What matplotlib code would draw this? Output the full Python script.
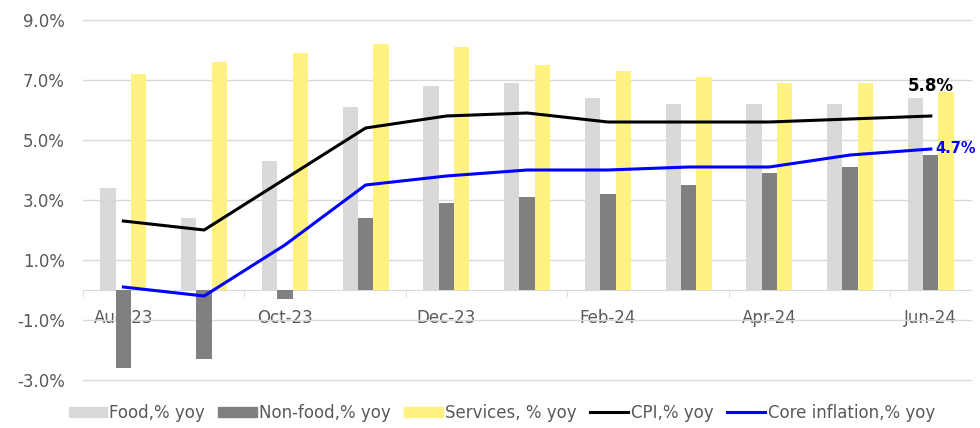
import numpy as np
import matplotlib
matplotlib.use("Agg")
import matplotlib.pyplot as plt
import matplotlib.ticker as mtick
from matplotlib.patches import Patch
from matplotlib.lines import Line2D

months = ["Aug-23", "Sep-23", "Oct-23", "Nov-23", "Dec-23", "Jan-24",
          "Feb-24", "Mar-24", "Apr-24", "May-24", "Jun-24"]
food = [3.4, 2.4, 4.3, 6.1, 6.8, 6.9, 6.4, 6.2, 6.2, 6.2, 6.4]
non_food = [-2.6, -2.3, -0.3, 2.4, 2.9, 3.1, 3.2, 3.5, 3.9, 4.1, 4.5]
services = [7.2, 7.6, 7.9, 8.2, 8.1, 7.5, 7.3, 7.1, 6.9, 6.9, 6.6]
cpi = [2.3, 2.0, 3.7, 5.4, 5.8, 5.9, 5.6, 5.6, 5.6, 5.7, 5.8]
core = [0.1, -0.2, 1.5, 3.5, 3.8, 4.0, 4.0, 4.1, 4.1, 4.5, 4.7]
y_ticks = [-3, -1, 1, 3, 5, 7, 9]

C_FOOD = "#d9d9d9"
C_NONFOOD = "#808080"
C_SERV = "#fff280"
C_GRID = "#d9d9d9"
C_TEXT = "#595959"

plt.rcParams["font.family"] = ["DejaVu Sans"]

fig = plt.figure(figsize=(9.8, 4.28), dpi=100)
ax = fig.add_axes([0.0847, 0.1121, 0.9063, 0.8412])

x = np.arange(len(months))
w = 0.19
ax.bar(x - w, food, width=w, color=C_FOOD, zorder=2)
ax.bar(x, non_food, width=w, color=C_NONFOOD, zorder=2)
ax.bar(x + w, services, width=w, color=C_SERV, zorder=2)
ax.plot(x, cpi, color="black", lw=2.2, zorder=3, solid_joinstyle="round")
ax.plot(x, core, color="#0000ff", lw=2.2, zorder=3, solid_joinstyle="round")

# end labels
ax.annotate(f"{cpi[-1]:.1f}%", (x[-1], cpi[-1]), xytext=(0, 15), textcoords="offset points",
            ha="center", va="bottom", fontsize=12, fontweight="bold", color="black",
            annotation_clip=False)
ax.annotate(f"{core[-1]:.1f}%", (x[-1], core[-1]), xytext=(3, 0), textcoords="offset points",
            ha="left", va="center", fontsize=10.5, fontweight="bold", color="#0000ff",
            annotation_clip=False)

ax.set_xlim(-0.5, len(months) - 0.5)
ax.set_ylim(-3, 9)
ax.set_yticks(y_ticks)
ax.yaxis.set_major_formatter(mtick.FuncFormatter(lambda v, p: f"{v:.1f}%"))
ax.grid(axis="y", color=C_GRID, lw=1)
for gl in ax.get_ygridlines():
    gl.set_clip_on(False)
ax.set_axisbelow(True)

for s in ["top", "right", "left"]:
    ax.spines[s].set_visible(False)
ax.spines["bottom"].set_position(("data", 0))
ax.spines["bottom"].set_color(C_GRID)
ax.spines["bottom"].set_zorder(1)

ax.set_xticks(x[::2])
ax.set_xticklabels(months[::2])
ax.set_xticks(np.arange(-0.5, len(months), 2), minor=True)
ax.tick_params(axis="x", which="major", length=0, pad=14, labelsize=12, labelcolor=C_TEXT)
ax.tick_params(axis="x", which="minor", length=5, color=C_GRID, direction="out")
ax.tick_params(axis="y", length=0, pad=13, labelsize=12, labelcolor=C_TEXT)

handles = [
    Patch(color=C_FOOD, label="Food,% yoy"),
    Patch(color=C_NONFOOD, label="Non-food,% yoy"),
    Patch(color=C_SERV, label="Services, % yoy"),
    Line2D([], [], color="black", lw=2.2, label="CPI,% yoy"),
    Line2D([], [], color="#0000ff", lw=2.2, label="Core inflation,% yoy"),
]
leg = fig.legend(handles=handles, loc="center", bbox_to_anchor=(0.512, 0.035), ncol=5,
                 frameon=False, fontsize=12, handlelength=2.3, handleheight=0.6,
                 handletextpad=0.15, columnspacing=0.8, borderaxespad=0)
for t in leg.get_texts():
    t.set_color(C_TEXT)

fig.savefig("out.png", dpi=100)
